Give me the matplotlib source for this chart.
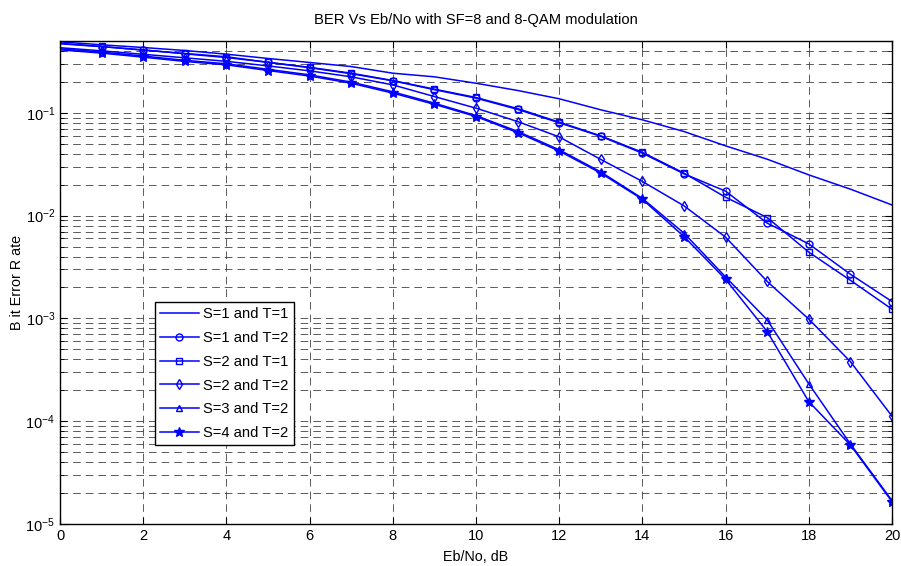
import matplotlib
matplotlib.use("Agg")
import matplotlib.pyplot as plt
import numpy as np

plt.rcParams["font.family"] = ["Liberation Sans", "DejaVu Sans"]
plt.rcParams["lines.scale_dashes"] = False

snr = np.arange(0, 21)

ber_s1_t1 = [0.49, 0.459, 0.432, 0.404, 0.372, 0.338, 0.309, 0.282, 0.243, 0.224, 0.194,
             0.165, 0.137, 0.107, 0.0855, 0.0658, 0.0477, 0.0354, 0.0249, 0.0181, 0.0127]
ber_s1_t2 = [0.47, 0.44, 0.41, 0.375, 0.345, 0.31, 0.275, 0.24, 0.205, 0.168, 0.139,
             0.108, 0.080, 0.059, 0.0405, 0.0255, 0.0173, 0.00845, 0.00531, 0.00269, 0.00146]
ber_s2_t1 = [0.474, 0.442, 0.407, 0.378, 0.351, 0.310, 0.277, 0.243, 0.206, 0.170, 0.141,
             0.110, 0.0812, 0.0597, 0.0413, 0.0259, 0.0151, 0.00957, 0.00441, 0.00235, 0.00123]
ber_s2_t2 = [0.430, 0.401, 0.371, 0.343, 0.317, 0.286, 0.256, 0.224, 0.187, 0.144, 0.111,
             0.0823, 0.0583, 0.0352, 0.0215, 0.01245, 0.00617, 0.00229, 0.000984, 0.00038, 0.000112]
ber_s3_t2 = [0.42, 0.39, 0.357, 0.324, 0.30, 0.265, 0.234, 0.199, 0.16, 0.124, 0.094,
             0.066, 0.0437, 0.0266, 0.0147, 0.00675, 0.00253, 0.000966, 0.000231, 0.000060, 0.0000169]
ber_s4_t2 = [0.410, 0.381, 0.348, 0.316, 0.293, 0.258, 0.228, 0.194, 0.1555, 0.121, 0.092,
             0.0643, 0.0425, 0.0259, 0.0144, 0.00625, 0.0024, 0.000745, 0.000155, 0.0000587, 0.0000165]

fig = plt.figure(figsize=(9.01, 5.66), dpi=100)
ax = fig.add_axes([0.0666, 0.0742, 0.9234, 0.8534])

blue = (0, 0, 1)
kw = dict(color=blue, lw=1.1, markersize=5, markerfacecolor="none",
          markeredgewidth=1.0, markevery=slice(1, None))
ax.semilogy(snr, ber_s1_t1, color=blue, lw=1.1, label="S=1 and T=1")
ax.semilogy(snr, ber_s1_t2, marker="o", label="S=1 and T=2", **kw)
ax.semilogy(snr, ber_s2_t1, marker="s", label="S=2 and T=1", **kw)
ax.semilogy(snr, ber_s2_t2, marker="d", label="S=2 and T=2", **{**kw, "markersize": 5.5})
ax.semilogy(snr, ber_s3_t2, marker="^", label="S=3 and T=2", **kw)
ax.semilogy(snr, ber_s4_t2, marker="*", label="S=4 and T=2",
            **{**kw, "markersize": 7, "markerfacecolor": blue})

ax.set_xlim(0, 20)
ax.set_ylim(1e-5, 0.5)
ax.set_xticks(np.arange(0, 21, 2))

dash = (0, (5.5, 3.6))
ax.grid(True, which="major", color="0.25", lw=0.6, linestyle=dash)
ax.grid(True, which="minor", axis="y", color="0.25", lw=0.6, linestyle=dash)
ax.tick_params(which="both", direction="in", top=True, right=True, labelsize=10.5)
ax.tick_params(which="major", length=5)
ax.tick_params(which="minor", length=3)
for sp in ax.spines.values():
    sp.set_linewidth(1.0)

ax.set_title("BER Vs Eb/No with SF=8 and 8-QAM modulation", fontsize=10.6, pad=12)
ax.set_xlabel("Eb/No, dB", fontsize=10.3, labelpad=5)
ax.set_ylabel("B it Error R ate", fontsize=10.3, labelpad=1)

leg = ax.legend(loc="lower left", bbox_to_anchor=(0.1055, 0.148), fontsize=10.6,
                frameon=True, fancybox=False, edgecolor="black", framealpha=1,
                handlelength=2.6, labelspacing=0.66, borderpad=0.35, handletextpad=0.3)
leg.get_frame().set_linewidth(1.0)

fig.savefig("out.png", dpi=100)
